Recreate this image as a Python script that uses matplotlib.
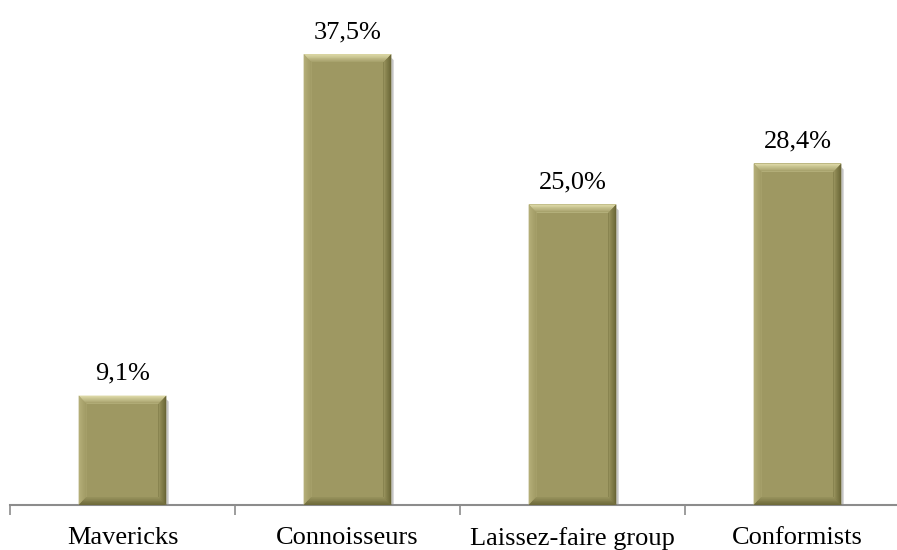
import matplotlib.pyplot as plt
import matplotlib.colors as mcolors
import numpy as np

plt.rcParams['font.family'] = ['Liberation Serif', 'DejaVu Serif']

groups = ['Mavericks', 'Connoisseurs', 'Laissez-faire group', 'Conformists']
shares = [9.1, 37.5, 25.0, 28.4]

face = '#9e9862'
top_c = '#dcd8a6'
left_c = '#b4ae78'
right_c = '#6a6636'
bottom_c = '#6f6b3b'


def mix(c1, c2, t):
    a = np.array(mcolors.to_rgb(c1))
    b = np.array(mcolors.to_rgb(c2))
    return tuple(a + (b - a) * t)


fig = plt.figure(figsize=(8.97, 5.5), dpi=100)
ax = fig.add_axes([10 / 897, 45 / 550, 900 / 897, 481 / 550])

x = np.arange(len(groups))
w = 0.39
ax.bar(x, shares, width=w, color=face, zorder=2)

# bevel: nested frames fading from the edge colour into the face
bx = 0.034
by = 0.66
steps = 6
for xi, v in zip(x, shares):
    l, r = xi - w / 2, xi + w / 2
    # soft shadow on the right
    ax.fill([r, r + 0.01, r + 0.01, r], [v - 0.3, v - 0.5, 0, 0], color='#c4c4c4', lw=0, zorder=1)
    for k in range(steps):
        t = k / steps
        dx, dy = bx * t, by * t
        ax.fill([l + dx, r - dx, r - bx, l + bx], [v - dy, v - dy, v - by, v - by],
                color=mix(top_c, face, t), lw=0, zorder=3)
        ax.fill([l + dx, l + bx, l + bx, l + dx], [v - dy, v - by, by, dy],
                color=mix(left_c, face, t), lw=0, zorder=3)
        ax.fill([r - dx, r - bx, r - bx, r - dx], [v - dy, v - by, by, dy],
                color=mix(right_c, face, t), lw=0, zorder=3)
        ax.fill([l + dx, l + bx, r - bx, r - dx], [dy, by, by, dy],
                color=mix(bottom_c, face, t), lw=0, zorder=3)
    ax.annotate(f'{v:.1f}'.replace('.', ',') + '%', (xi, v), xytext=(0, 11.5),
                textcoords='offset points', ha='center', va='baseline', fontsize=19)

ax.set_xlim(-0.5, len(groups) - 0.5)
ax.set_ylim(0, 40)
ax.set_yticks([])
ax.set_xticks(x)
ax.set_xticklabels(groups, fontsize=19)
ax.tick_params(axis='x', length=0, pad=16)
ax.set_xticks(np.arange(len(groups) + 1) - 0.5, minor=True)
ax.tick_params(axis='x', which='minor', length=7, color='#8c8c8c', width=1.2)

for s in ['top', 'right', 'left']:
    ax.spines[s].set_visible(False)
ax.spines['bottom'].set_color('#8c8c8c')
ax.spines['bottom'].set_linewidth(1.5)

fig.savefig('out.png', dpi=100)
